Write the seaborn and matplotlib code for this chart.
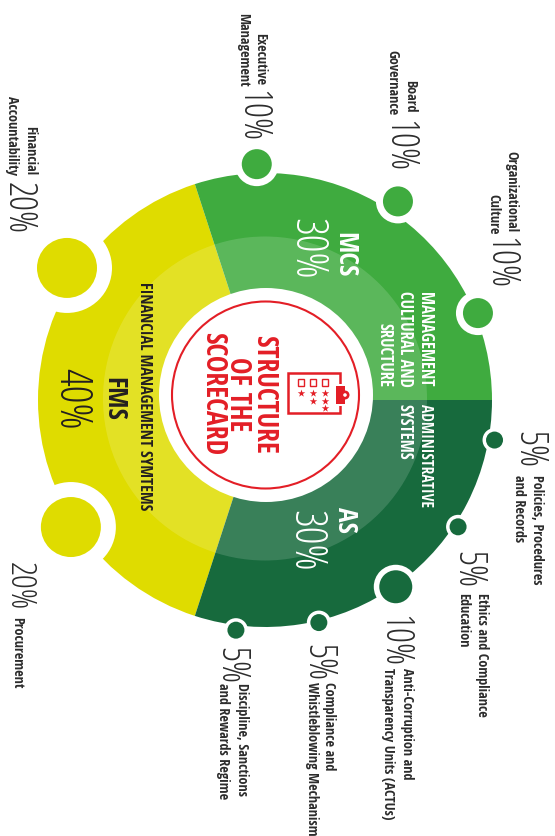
import numpy as np
import pandas as pd
import seaborn as sns
import matplotlib
matplotlib.use("Agg")
import matplotlib.pyplot as plt
from matplotlib.patches import Circle, Rectangle

#data
group_names = ["FMS", "AS", "MCS"]
group_shares = [40, 30, 30]
group_colors = ["#dfdc00", "#176a3d", "#3fab3f"]

fms_items = ["Financial Accountability", "Procurement"]
fms_shares = [20, 20]
mcs_items = ["Executive Management", "Board Governance", "Organizational Culture"]
mcs_shares = [10, 10, 10]
as_items = ["Policies, Procedures and Records", "Ethics and Compliance Education",
            "Anti-Corruption and Transparency Units (ACTUs)",
            "Compliance and Whistleblowing Mechanism",
            "Discipline, Sanctions and Rewards Regime"]
as_shares = [5, 5, 10, 5, 5]

#layout is in picture pixels, y going down
W, H = 555, 836
CX, CY, R = 265, 400, 227

def py(y):
    return H - y

def pt(px):
    return px * 72 / 100

def area(radius):
    return pt(2 * radius) ** 2

sns.set_theme(style="white")
fig = plt.figure(figsize=(W / 100, H / 100), dpi=100)
ax = fig.add_axes([0, 0, 1, 1])

#ring
ax.pie(group_shares, colors=group_colors, startangle=108, radius=R, center=(CX, py(CY)),
       wedgeprops=dict(linewidth=0, zorder=1))
ax.add_patch(Circle((CX, py(398.5)), 162, fc="white", alpha=0.15, lw=0, zorder=2))

#dots, one per item: spread evenly inside their group, then nudged to where they sit
rows = []
groups = [("FMS", fms_items, fms_shares, 108, 144, [2.3, -2.8], [238, 232]),
          ("MCS", mcs_items, mcs_shares, 108, -108, [2, 2.2, 4.2], [236, 239, 230]),
          ("AS", as_items, as_shares, 0, -108, [0.9, -0.9, -1, -0.8, 0], [233, 231, 228, 229, 232])]
for name, items, shares, start, span, nudge, dist in groups:
    for i, item in enumerate(items):
        a = np.deg2rad(start + (i + 0.5) * span / len(items) + nudge[i])
        rows.append(dict(group=name, item=item, share=shares[i],
                         x=CX + dist[i] * np.cos(a), y=py(CY) + dist[i] * np.sin(a)))
dots = pd.DataFrame(rows)

dot_r = {5: 8.5, 10: 15, 20: 30}
halo_r = {5: 12, 10: 22, 20: 45}
item_dot = {row.item: area(dot_r[row.share]) for row in dots.itertuples()}
item_dot[as_items[2]] = area(16.5)
palette = dict(zip(group_names, group_colors))
sns.scatterplot(data=dots, x="x", y="y", size="share", sizes={k: area(v) for k, v in halo_r.items()},
                color="white", linewidth=0, legend=False, zorder=3, ax=ax)
sns.scatterplot(data=dots, x="x", y="y", hue="group", palette=palette, size="item",
                sizes=item_dot, linewidth=0, legend=False, zorder=4, ax=ax)

#centre
ax.add_patch(Circle((266, py(395)), 107, fc="white", lw=0, zorder=5))
RED = "#e31e26"
ax.add_patch(Circle((265.5, py(395)), 93.5, fc="none", ec=RED, lw=1.5, zorder=6))

#clipboard icon
ax.add_patch(Rectangle((288, py(413)), 52, 40, fc="none", ec=RED, lw=1.8, zorder=6))
ax.add_patch(Rectangle((339, py(406)), 5, 22, fc="white", lw=0, zorder=6))
ax.add_patch(Rectangle((336, py(404)), 9, 18, fc=RED, lw=0, zorder=7))
ax.add_patch(Circle((345, py(395)), 4.5, fc=RED, lw=0, zorder=7))
ax.add_patch(Circle((345, py(395)), 1.8, fc="white", lw=0, zorder=8))
for x0 in [301, 313, 325]:
    ax.add_patch(Rectangle((x0 - 3.3, py(386)), 6.6, 6.6, fc="none", ec=RED, lw=1, zorder=7))
star_x = [301, 313, 325, 313, 325, 325]
star_y = [393, 393, 393, 401, 401, 408]
ax.scatter(star_x, [py(v) for v in star_y], marker="*", s=32, color=RED, linewidth=0, zorder=7)

#text: x is the line's centre, y the edge it is anchored on
DARK = "#2c2c2c"
bold = dict(family="Open Sans Condensed", weight="bold", rotation=270, ha="center", zorder=9)
thin = dict(family="Open Sans", stretch="condensed", weight=300, rotation=270, ha="center", zorder=9)

def label(x, y, s, size=10.2, color=DARK, va="bottom"):
    ax.text(x, py(y), s, size=size, color=color, va=va, **bold)

def number(x, y, s, size=27, color=DARK, va="top"):
    ax.text(x, py(y), s, size=size, color=color, va=va, **thin)

#labels above the numbers end on the number, labels below start from it
label(260, 85, "Executive"); label(243, 87, "Management")
number(251, 90, "10%")
label(410, 112, "Board"); label(392, 115, "Governance")
number(398, 120, "10%")
label(511, 232, "Organizational"); label(493, 234, "Culture")
number(499, 237, "10%")
label(30, 175, "Financial"); label(12, 175, "Accountability")
number(18, 182, "20%")

number(528, 431, "5%")
label(537, 475, "Policies, Procedures", va="top"); label(519, 475, "and Records", va="top")
number(467, 551, "5%")
label(482, 593, "Ethics and Compliance", va="top"); label(463, 593, "Education", va="top")
number(393, 615, "10%")
label(407, 668, "Anti-Corruption and", va="top"); label(388, 668, "Transparency Units (ACTUs)", va="top")
number(317, 644, "5%")
label(329, 682, "Compliance and", va="top"); label(312, 682, "Whistleblowing Mechanism", va="top")
number(230, 647, "5%")
label(242, 683, "Discipline, Sanctions", va="top"); label(223, 683, "and Rewards Regime", va="top")
number(19, 562, "20%", size=25)
label(17, 617, "Procurement", va="top")

#group labels
label(345, 232, "MCS", size=19.5, color="white", va="top")
number(306, 218, "30%", size=32, color="white")
label(425, 387, "MANAGEMENT", size=12, color="white")
label(405, 387, "CULTURAL AND", size=12, color="white")
label(385, 387, "SRUCTURE", size=12, color="white")
label(425, 404, "ADMINISTRATIVE", size=11.2, color="white", va="top")
label(405, 404, "SYSTEMS", size=12, color="white", va="top")
label(345, 507, "AS", size=19.5, color="white", va="top")
number(305, 510, "30%", size=32, color="white")
label(114, 377, "FMS", size=19.5, color="#231f20", va="top")
number(71, 368, "40%", size=32, color="#231f20")
label(144, 282, "FINANCIAL MANAGEMENT SYMTEMS", size=11.7, color="#231f20", va="top")

ax.text(238, py(394), "STRUCTURE\nOF THE\nSCORECARD", size=20, color=RED, va="center",
        linespacing=0.84, multialignment="center", **bold)

ax.set_xlim(0, W)
ax.set_ylim(0, H)
ax.set_aspect("equal")
ax.axis("off")
fig.savefig("out.png", dpi=100, facecolor="white")
